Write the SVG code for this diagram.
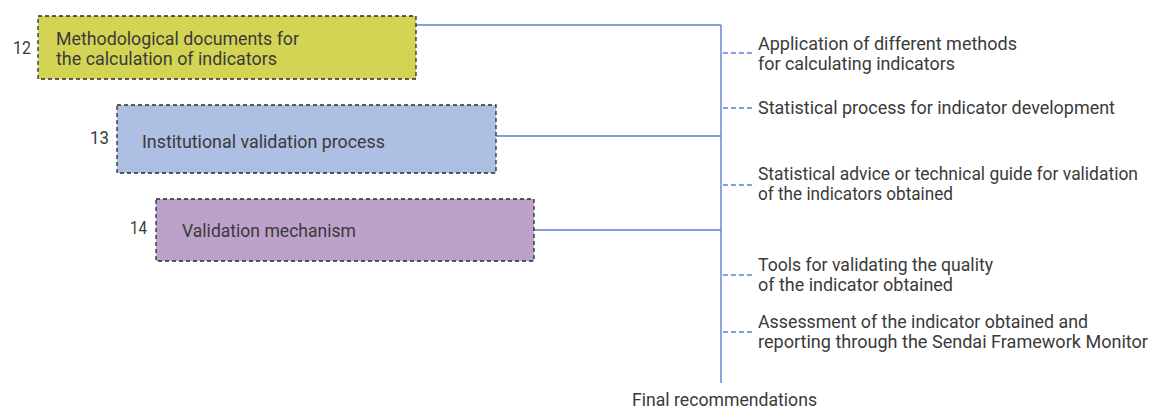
<svg xmlns="http://www.w3.org/2000/svg" width="1153" height="410" viewBox="0 0 1153 410">
<style>
text{font-family:"Liberation Sans Narrow","Roboto","Liberation Sans",sans-serif;font-size:18px;fill:#3a3a3a;}
.box{stroke:#2a2a2a;stroke-width:1.3;stroke-dasharray:4 3;}
.conn{stroke:#5b80c9;stroke-width:1.4;fill:none;}
.dash{stroke:#5b80c9;stroke-width:1.4;stroke-dasharray:5 3;fill:none;}
</style>
<rect width="1153" height="410" fill="#fff"/>
<g id="connectors">
<line class="conn" x1="416" y1="25" x2="721" y2="25"/>
<line class="conn" x1="721" y1="25" x2="721" y2="383"/>
<line class="conn" x1="496" y1="136" x2="721" y2="136"/>
<line class="conn" x1="534" y1="230" x2="721" y2="230"/>
<line class="dash" x1="723" y1="53" x2="752" y2="53"/>
<line class="dash" x1="723" y1="108" x2="752" y2="108"/>
<line class="dash" x1="723" y1="185" x2="752" y2="185"/>
<line class="dash" x1="723" y1="275" x2="752" y2="275"/>
<line class="dash" x1="723" y1="332" x2="752" y2="332"/>
</g>
<g id="node12">
<rect class="box" x="38" y="16" width="378" height="63" fill="#d4d454"/>
<text x="13" y="54" textLength="18" lengthAdjust="spacingAndGlyphs">12</text>
<text x="56" y="45" textLength="243" lengthAdjust="spacingAndGlyphs">Methodological documents for</text>
<text x="56" y="65" textLength="221" lengthAdjust="spacingAndGlyphs">the calculation of indicators</text>
</g>
<g id="node13">
<rect class="box" x="117" y="105" width="379" height="68" fill="#adbfe3"/>
<text x="90" y="144" textLength="19" lengthAdjust="spacingAndGlyphs">13</text>
<text x="142" y="148" textLength="243" lengthAdjust="spacingAndGlyphs">Institutional validation process</text>
</g>
<g id="node14">
<rect class="box" x="156" y="199" width="378" height="62" fill="#bca2cb"/>
<text x="130" y="234" textLength="17" lengthAdjust="spacingAndGlyphs">14</text>
<text x="182" y="237" textLength="174" lengthAdjust="spacingAndGlyphs">Validation mechanism</text>
</g>
<g id="step1">
<text x="758" y="50" textLength="259" lengthAdjust="spacingAndGlyphs">Application of different methods</text>
<text x="758" y="70" textLength="197" lengthAdjust="spacingAndGlyphs">for calculating indicators</text>
</g>
<g id="step2">
<text x="758" y="114" textLength="357" lengthAdjust="spacingAndGlyphs">Statistical process for indicator development</text>
</g>
<g id="step3">
<text x="758" y="180" textLength="380" lengthAdjust="spacingAndGlyphs">Statistical advice or technical guide for validation</text>
<text x="758" y="200" textLength="195" lengthAdjust="spacingAndGlyphs">of the indicators obtained</text>
</g>
<g id="step4">
<text x="758" y="271" textLength="235" lengthAdjust="spacingAndGlyphs">Tools for validating the quality</text>
<text x="758" y="291" textLength="195" lengthAdjust="spacingAndGlyphs">of the indicator obtained</text>
</g>
<g id="step5">
<text x="758" y="328" textLength="330" lengthAdjust="spacingAndGlyphs">Assessment of the indicator obtained and</text>
<text x="758" y="348" textLength="390" lengthAdjust="spacingAndGlyphs">reporting through the Sendai Framework Monitor</text>
</g>
<g id="final">
<text x="632" y="406" textLength="185" lengthAdjust="spacingAndGlyphs">Final recommendations</text>
</g>
</svg>
